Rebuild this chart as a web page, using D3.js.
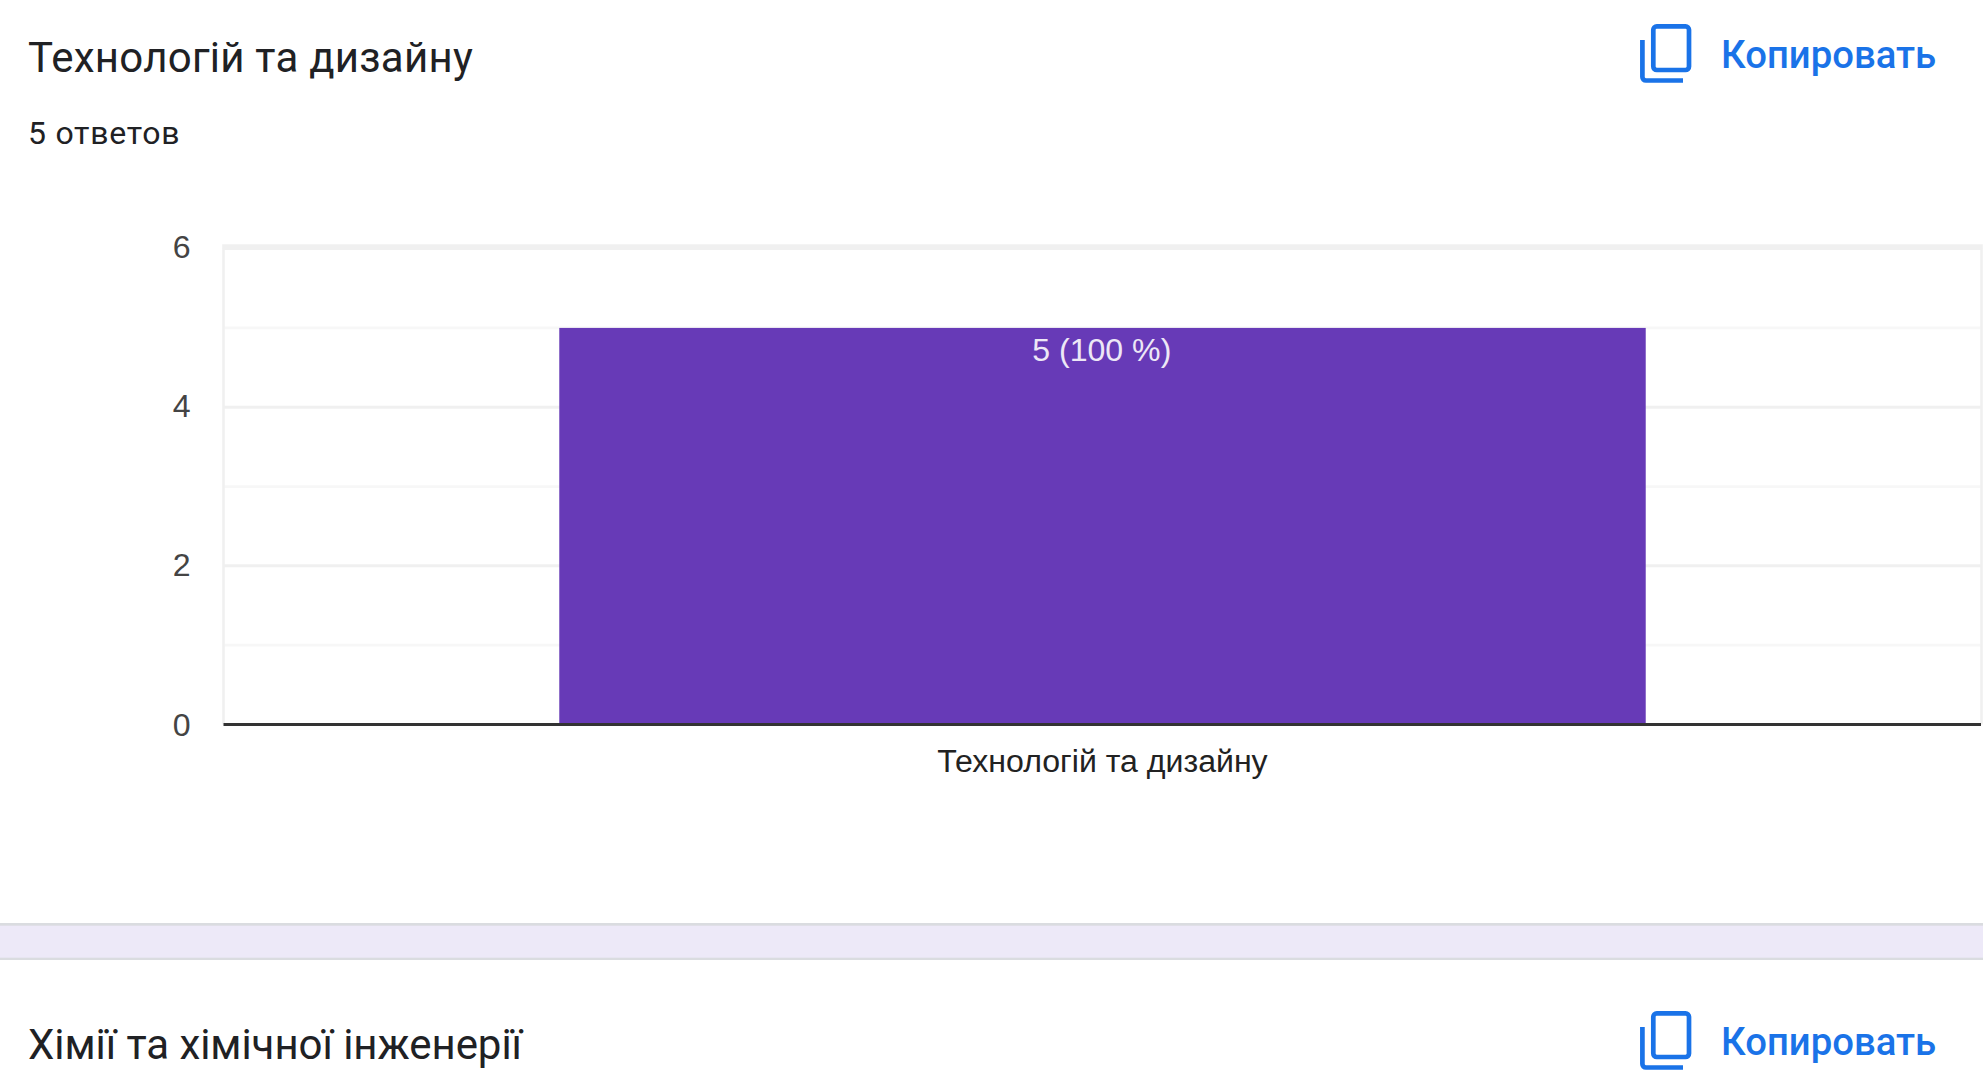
<!DOCTYPE html>
<html>
<head>
<meta charset="utf-8">
<script src="https://d3js.org/d3.v7.min.js"></script>
<style>
  html, body { margin: 0; padding: 0; background: #fff; overflow: hidden; }
  svg { display: block; }
</style>
</head>
<body>
<svg id="chart" width="1983" height="1071"></svg>
<script>
const categories = ["Технологій та дизайну"]
const values = [5]
const valueLabels = ["5 (100 %)"]
const majorTicks = [0, 2, 4, 6]
const minorTicks = [1, 3, 5]
const blocks = ["Технологій та дизайну", "Хімії та хімічної інженерії"]
const answers = "5 ответов"
const copyLabel = "Копировать"

const width = 1983
const svg = d3.select("#chart")
const uiFont = "Roboto, sans-serif"
const chartFont = "'Liberation Sans', Arial, sans-serif"
const chartFontSize = 32.1

// plot area
const plotLeft = 223.5, plotRight = 1981.5, plotTop = 248.6, plotBottom = 724.5

const x = d3.scaleBand().domain(categories).range([plotLeft, plotRight]).paddingInner(0.382).paddingOuter(0.191)
const y = d3.scaleLinear().domain([0, 6]).range([plotBottom, plotTop])

// minor grid first, major over it
svg.append("g").selectAll("line").data(minorTicks).join("line")
  .attr("x1", plotLeft).attr("x2", plotRight)
  .attr("y1", d => y(d)).attr("y2", d => y(d))
  .attr("stroke", "#f7f7f7").attr("stroke-width", 2.7)

svg.append("g").selectAll("line").data(majorTicks.filter(d => d > 0)).join("line")
  .attr("x1", plotLeft).attr("x2", plotRight)
  .attr("y1", d => y(d)).attr("y2", d => y(d))
  .attr("stroke", "#f0f0f0").attr("stroke-width", 3)

// top line is thicker in the original
svg.append("line")
  .attr("x1", plotLeft - 1.3).attr("x2", plotRight + 1.3)
  .attr("y1", y(6) - 2).attr("y2", y(6) - 2)
  .attr("stroke", "#f0f0f0").attr("stroke-width", 4.7)

// frame sides
svg.append("g").selectAll("line").data([plotLeft, plotRight]).join("line")
  .attr("x1", d => d).attr("x2", d => d)
  .attr("y1", plotTop).attr("y2", plotBottom)
  .attr("stroke", "#f0f0f0").attr("stroke-width", 2.6)

svg.append("g").selectAll("rect").data(values).join("rect")
  .attr("x", (d, i) => x(categories[i]))
  .attr("width", x.bandwidth())
  .attr("y", d => y(d))
  .attr("height", d => y(0) - y(d))
  .attr("fill", "#673ab7")

svg.append("g").selectAll("text").data(valueLabels).join("text")
  .attr("x", (d, i) => x(categories[i]) + x.bandwidth() / 2 - 0.7)
  .attr("y", (d, i) => y(values[i]) + 33)
  .attr("text-anchor", "middle")
  .attr("font-family", chartFont).attr("font-size", chartFontSize)
  .attr("fill", "#ede7f6")
  .text(d => d)

// baseline
svg.append("line")
  .attr("x1", plotLeft).attr("x2", width - 2)
  .attr("y1", plotBottom).attr("y2", plotBottom)
  .attr("stroke", "#333").attr("stroke-width", 2.8)

// y axis
const yAxis = d3.axisLeft(y).tickValues(majorTicks).tickSize(0).tickPadding(33).tickFormat(d3.format("d"))
svg.append("g").attr("transform", `translate(${plotLeft},0)`).call(yAxis)
  .call(g => g.select(".domain").remove())
  .call(g => g.selectAll("text")
    .attr("font-family", chartFont).attr("font-size", chartFontSize).attr("fill", "#444")
    .attr("transform", d => `translate(0,${d == 0 ? 1 : -1})`))

// x axis
const xAxis = d3.axisBottom(x).tickSize(0).tickPadding(25)
svg.append("g").attr("transform", `translate(0,${plotBottom})`).call(xAxis)
  .call(g => g.select(".domain").remove())
  .call(g => g.selectAll("text")
    .attr("font-family", chartFont).attr("font-size", chartFontSize).attr("fill", "#222"))

// card headers
function copyButton(dy) {
  const g = svg.append("g").attr("transform", `translate(0,${dy})`)
  g.append("rect")
    .attr("x", 1653.3).attr("y", 26.3).attr("width", 35.7).attr("height", 43.7).attr("rx", 3.5)
    .attr("fill", "none").attr("stroke", "#1a73e8").attr("stroke-width", 4.7)
  g.append("path")
    .attr("d", "M1642.4 40V77a3.5 3.5 0 0 0 3.5 3.5H1683")
    .attr("fill", "none").attr("stroke", "#1a73e8").attr("stroke-width", 4.7)
  g.append("text")
    .attr("x", 1721).attr("y", 67.5)
    .attr("font-family", uiFont).attr("font-size", 38.3).attr("font-weight", 500).attr("fill", "#1a73e8")
    .text(copyLabel)
}

svg.append("g").selectAll("text").data(blocks).join("text")
  .attr("x", 28).attr("y", (d, i) => i == 0 ? 71.5 : 1059)
  .attr("font-family", uiFont).attr("font-size", 42).attr("fill", "#202124")
  .attr("letter-spacing", (d, i) => i == 0 ? 0.24 : -0.05)
  .text(d => d)

svg.append("text")
  .attr("x", 28).attr("y", 144)
  .attr("font-family", uiFont).attr("font-size", 32).attr("letter-spacing", 0.75).attr("fill", "#202124")
  .text(answers)

copyButton(0)
copyButton(987)

// divider band
svg.append("rect").attr("x", 0).attr("y", 923).attr("width", width).attr("height", 37).attr("fill", "#dadce0")
svg.append("rect").attr("x", 0).attr("y", 925.7).attr("width", width).attr("height", 32).attr("fill", "#ede9f8")
</script>
</body>
</html>
